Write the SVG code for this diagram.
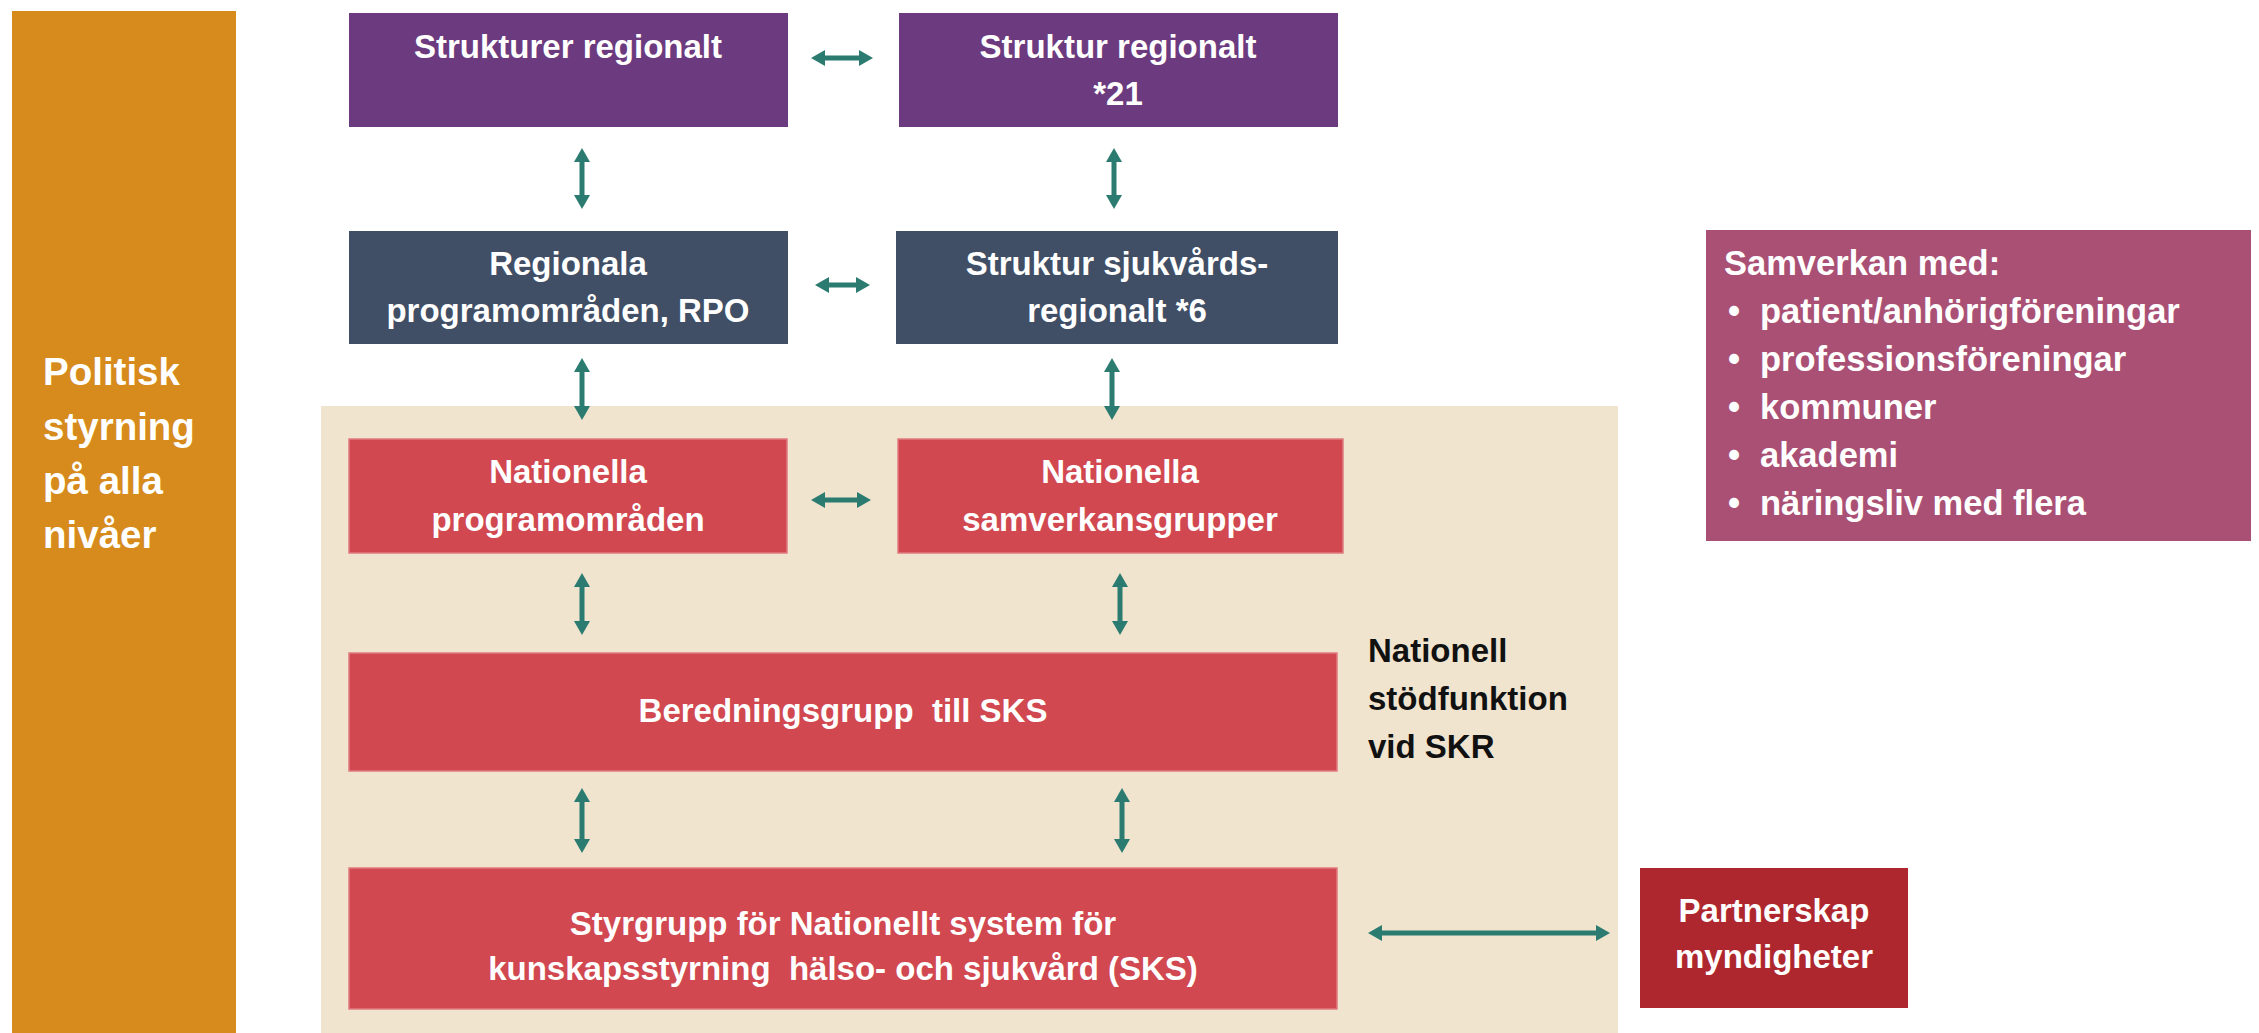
<svg xmlns="http://www.w3.org/2000/svg" width="2259" height="1033" viewBox="0 0 2259 1033">
<style>
text{font-family:"Liberation Sans",Arial,sans-serif;font-weight:bold}
.w{fill:#ffffff;font-size:33px;text-anchor:middle}
.k{fill:#111111;font-size:33px}
.s{fill:#ffffff;font-size:34.5px}
.pol{fill:#ffffff;font-size:38.5px}
.purple{fill:#6C3A7E}
.slate{fill:#404F66}
.red{fill:#D14850;stroke:#E07A7E;stroke-width:1.5}
.dred{fill:#AF272E}
.pink{fill:#AA5074}
.conn{stroke:#2B7B70;stroke-width:5;fill:none;marker-start:url(#ah);marker-end:url(#ah)}
</style>
<defs>
<marker id="ah" viewBox="0 0 14 16" markerWidth="14" markerHeight="16" refX="4" refY="8" orient="auto-start-reverse" markerUnits="userSpaceOnUse">
<path d="M0,0 L14,8 L0,16 z" fill="#2B7B70"/>
</marker>
</defs>
<rect width="2259" height="1033" fill="#ffffff"/>
<g id="politisk">
<rect x="12" y="11" width="224" height="1022" fill="#D68B1C"/>
<text class="pol" x="43" y="385">Politisk</text>
<text class="pol" x="43" y="440">styrning</text>
<text class="pol" x="43" y="494">på alla</text>
<text class="pol" x="43" y="548">nivåer</text>
</g>
<g id="nationell-stodfunktion">
<rect x="321" y="406" width="1297" height="627" fill="#F0E4CE"/>
<text class="k" x="1368" y="662">Nationell</text>
<text class="k" x="1368" y="710">stödfunktion</text>
<text class="k" x="1368" y="758">vid SKR</text>
</g>
<g id="strukturer-regionalt">
<rect class="purple" x="349" y="13" width="439" height="114"/>
<text class="w" x="568" y="58">Strukturer regionalt</text>
</g>
<g id="struktur-regionalt">
<rect class="purple" x="899" y="13" width="439" height="114"/>
<text class="w" x="1118" y="58">Struktur regionalt</text>
<text class="w" x="1118" y="105">*21</text>
</g>
<g id="rpo">
<rect class="slate" x="349" y="231" width="439" height="113"/>
<text class="w" x="568" y="275">Regionala</text>
<text class="w" x="568" y="322">programområden, RPO</text>
</g>
<g id="sjukvardsregionalt">
<rect class="slate" x="896" y="231" width="442" height="113"/>
<text class="w" x="1117" y="275">Struktur sjukvårds-</text>
<text class="w" x="1117" y="322">regionalt *6</text>
</g>
<g id="npo">
<rect class="red" x="349" y="439" width="438" height="114"/>
<text class="w" x="568" y="483">Nationella</text>
<text class="w" x="568" y="531">programområden</text>
</g>
<g id="nsg">
<rect class="red" x="898" y="439" width="445" height="114"/>
<text class="w" x="1120" y="483">Nationella</text>
<text class="w" x="1120" y="531">samverkansgrupper</text>
</g>
<g id="beredningsgrupp">
<rect class="red" x="349" y="653" width="988" height="118"/>
<text class="w" x="843" y="722" xml:space="preserve">Beredningsgrupp  till SKS</text>
</g>
<g id="styrgrupp">
<rect class="red" x="349" y="868" width="988" height="141"/>
<text class="w" x="843" y="935">Styrgrupp för Nationellt system för</text>
<text class="w" x="843" y="980" xml:space="preserve">kunskapsstyrning  hälso- och sjukvård (SKS)</text>
</g>
<g id="partnerskap">
<rect class="dred" x="1640" y="868" width="268" height="140"/>
<text class="w" x="1774" y="922">Partnerskap</text>
<text class="w" x="1774" y="968">myndigheter</text>
</g>
<g id="samverkan">
<rect class="pink" x="1706" y="230" width="545" height="311"/>
<text class="s" x="1724" y="275">Samverkan med:</text>
<text class="s" y="323"><tspan x="1728">•</tspan><tspan x="1760">patient/anhörigföreningar</tspan></text>
<text class="s" y="371"><tspan x="1728">•</tspan><tspan x="1760">professionsföreningar</tspan></text>
<text class="s" y="419"><tspan x="1728">•</tspan><tspan x="1760">kommuner</tspan></text>
<text class="s" y="467"><tspan x="1728">•</tspan><tspan x="1760">akademi</tspan></text>
<text class="s" y="515"><tspan x="1728">•</tspan><tspan x="1760">näringsliv med flera</tspan></text>
</g>
<g id="connectors">
<line class="conn" x1="821" y1="58" x2="863" y2="58"/>
<line class="conn" x1="825" y1="285" x2="860" y2="285"/>
<line class="conn" x1="821" y1="500" x2="861" y2="500"/>
<line class="conn" x1="582" y1="158" x2="582" y2="199"/>
<line class="conn" x1="1114" y1="158" x2="1114" y2="199"/>
<line class="conn" x1="582" y1="368" x2="582" y2="410"/>
<line class="conn" x1="1112" y1="368" x2="1112" y2="410"/>
<line class="conn" x1="582" y1="583" x2="582" y2="625"/>
<line class="conn" x1="1120" y1="583" x2="1120" y2="625"/>
<line class="conn" x1="582" y1="798" x2="582" y2="843"/>
<line class="conn" x1="1122" y1="798" x2="1122" y2="843"/>
<line class="conn" x1="1378" y1="933" x2="1600" y2="933"/>
</g>
</svg>
